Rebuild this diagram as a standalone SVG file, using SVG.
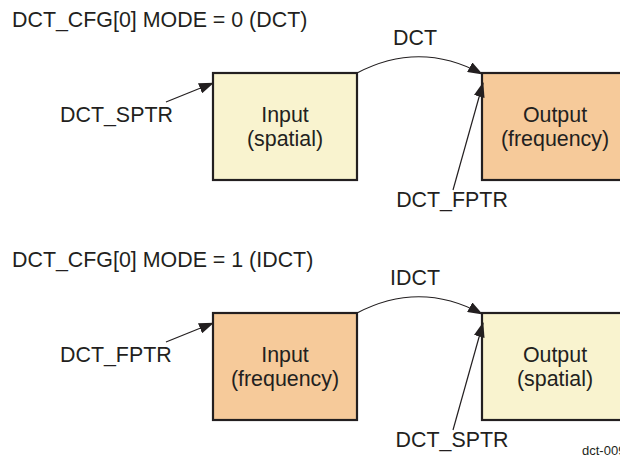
<svg xmlns="http://www.w3.org/2000/svg" width="620" height="458" viewBox="0 0 620 458">
<style>
text{font-family:"Liberation Sans",Arial,sans-serif;font-size:21.4px;fill:#231f20}
.c{text-anchor:middle}
.box{stroke:#231f20;stroke-width:2.2}
.sp{fill:#f9f3cf}
.fr{fill:#f6ca9a}
.ln{fill:none;stroke:#231f20;stroke-width:1.2}
.small{font-size:13px}
</style>
<defs>
<marker id="ah" viewBox="0 0 15 11" refX="14" refY="5.5" markerWidth="15" markerHeight="11" markerUnits="userSpaceOnUse" orient="auto">
<path d="M0,0 L15,5.5 L0,11 Z" fill="#231f20"/>
</marker>
</defs>
<rect width="620" height="458" fill="#fff"/>
<text x="12" y="27">DCT_CFG[0] MODE = 0 (DCT)</text>
<text x="12" y="267">DCT_CFG[0] MODE = 1 (IDCT)</text>
<g id="in-spatial">
<rect class="box sp" x="213" y="73" width="144" height="107"/>
<text class="c" x="285" y="122">Input</text>
<text class="c" x="285" y="146">(spatial)</text>
</g>
<g id="out-frequency">
<rect class="box fr" x="482" y="73" width="145" height="107"/>
<text class="c" x="555" y="122">Output</text>
<text class="c" x="555" y="146">(frequency)</text>
</g>
<g id="in-frequency">
<rect class="box fr" x="213" y="313" width="144" height="107"/>
<text class="c" x="285" y="362">Input</text>
<text class="c" x="285" y="386">(frequency)</text>
</g>
<g id="out-spatial">
<rect class="box sp" x="482" y="313" width="145" height="107"/>
<text class="c" x="555" y="362">Output</text>
<text class="c" x="555" y="386">(spatial)</text>
</g>
<g id="connectors">
<path class="ln" d="M166,102 L213,83" marker-end="url(#ah)"/>
<path class="ln" d="M357,73 Q420,40 482,74" marker-end="url(#ah)"/>
<path class="ln" d="M453,190 L483,83" marker-end="url(#ah)"/>
<path class="ln" d="M166,342 L213,323" marker-end="url(#ah)"/>
<path class="ln" d="M357,313 Q420,280 482,314" marker-end="url(#ah)"/>
<path class="ln" d="M453,430 L483,323" marker-end="url(#ah)"/>
</g>
<g id="labels">
<text x="60" y="122">DCT_SPTR</text>
<text class="c" x="415" y="45">DCT</text>
<text class="c" x="452" y="207">DCT_FPTR</text>
<text x="60" y="362">DCT_FPTR</text>
<text class="c" x="415" y="285">IDCT</text>
<text class="c" x="452" y="447">DCT_SPTR</text>
<text class="small" x="582" y="455">dct-009</text>
</g>
</svg>
